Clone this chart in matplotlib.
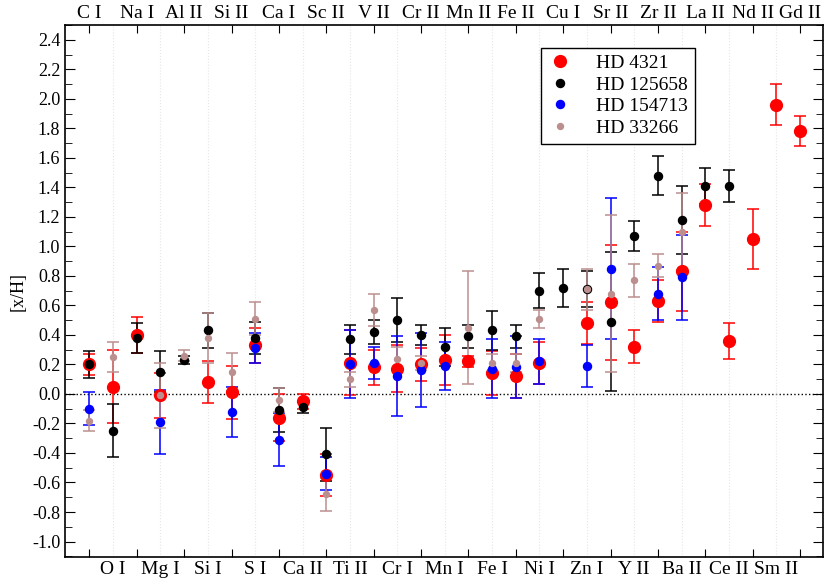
import numpy as np
import matplotlib
matplotlib.use('Agg')
import matplotlib.pyplot as plt
from matplotlib.ticker import MultipleLocator
from matplotlib.lines import Line2D

plt.rcParams['font.family'] = ['Liberation Serif', 'DejaVu Serif']

nan = np.nan
# элементы
elements = ['C I', 'O I', 'Na I', 'Mg I', 'Al II', 'Si I', 'Si II', 'S I', 'Ca I', 'Ca II',
            'Sc II', 'Ti II', 'V II', 'Cr I', 'Cr II', 'Mn I', 'Mn II', 'Fe I', 'Fe II', 'Ni I',
            'Cu I', 'Zn I', 'Sr II', 'Y II', 'Zr II', 'Ba II', 'La II', 'Ce II', 'Nd II', 'Sm II',
            'Gd II']

# HD 4321
hd4321 = [0.20, 0.05, 0.40, -0.01, nan, 0.08, 0.01, 0.33, -0.16, -0.05,
          -0.55, 0.21, 0.18, 0.17, 0.20, 0.23, 0.22, 0.14, 0.12, 0.21,
          nan, 0.48, 0.62, 0.32, 0.63, 0.83, 1.28, 0.36, 1.05, 1.96, 1.78]
hd4321_err = [0.07, 0.25, 0.12, 0.15, nan, 0.14, 0.18, 0.12, 0.16, 0.05,
              0.14, 0.22, 0.12, 0.16, 0.11, 0.17, 0.04, 0.15, 0.15, 0.14,
              nan, 0.14, 0.39, 0.11, 0.14, 0.27, 0.14, 0.12, 0.20, 0.14, 0.10]
# HD 125658
hd125658 = [0.20, -0.25, 0.38, 0.15, 0.23, 0.43, nan, 0.38, -0.11, -0.09,
            -0.41, 0.37, 0.42, 0.50, 0.40, 0.32, 0.39, 0.43, 0.39, 0.70,
            0.72, 0.71, 0.49, 1.07, 1.48, 1.18, 1.41, 1.41, nan, nan, nan]
hd125658_err = [0.09, 0.18, 0.10, 0.14, 0.03, 0.12, nan, 0.11, 0.15, 0.04,
                0.18, 0.10, 0.08, 0.15, 0.07, 0.13, 0.08, 0.13, 0.08, 0.12,
                0.13, 0.12, 0.47, 0.10, 0.13, 0.23, 0.12, 0.11, nan, nan, nan]
# HD 154713
hd154713 = [-0.10, nan, nan, -0.19, nan, nan, -0.12, 0.31, -0.31, nan,
            -0.54, 0.20, 0.21, 0.12, 0.16, 0.19, nan, 0.17, 0.18, 0.22,
            nan, 0.19, 0.85, nan, 0.68, 0.79, nan, nan, nan, nan, nan]
hd154713_err = [0.11, nan, nan, 0.22, nan, nan, 0.17, 0.10, 0.18, nan,
                0.11, 0.23, 0.11, 0.27, 0.25, 0.16, nan, 0.20, 0.21, 0.15,
                nan, 0.14, 0.48, nan, 0.18, 0.29, nan, nan, nan, nan, nan]
# HD 33266
hd33266 = [-0.18, 0.25, nan, -0.01, 0.26, 0.38, 0.15, 0.51, -0.04, nan,
           -0.68, 0.10, 0.57, 0.24, 0.21, nan, 0.45, 0.21, 0.21, 0.51,
           nan, 0.71, 0.68, 0.77, 0.87, 1.10, nan, nan, nan, nan, nan]
hd33266_err = [0.07, 0.10, nan, 0.22, 0.04, 0.17, 0.13, 0.11, 0.08, nan,
               0.11, 0.05, 0.11, 0.08, 0.05, nan, 0.38, 0.06, 0.06, 0.06,
               nan, 0.14, 0.53, 0.11, 0.08, 0.26, nan, nan, nan, nan, nan]

x = np.arange(len(elements))

fig = plt.figure(figsize=(8.3, 5.84), dpi=100)
ax = fig.add_axes([0.0783, 0.0462, 0.9133, 0.911])

ax.axhline(0, color='black', linestyle=':', linewidth=1.0, zorder=1)

stars = [
    (hd4321, hd4321_err, 'red', 8.5, 'HD 4321'),
    (hd125658, hd125658_err, 'black', 5.8, 'HD 125658'),
    (hd154713, hd154713_err, 'blue', 5.8, 'HD 154713'),
    (hd33266, hd33266_err, 'rosybrown', 4.3, 'HD 33266'),
]
handles = []
for vals, errs, col, ms, lab in stars:
    ax.errorbar(x, vals, yerr=errs, fmt='o', color=col, ecolor=col, markersize=ms,
                elinewidth=1.1, capsize=4, capthick=1.1, zorder=3)
    handles.append(Line2D([], [], marker='o', linestyle='', color=col, markersize=ms, label=lab))

ax.set_xlim(-1.03, 30.97)
ax.set_ylim(-1.105, 2.5)

# подписи: чётные сверху, нечётные снизу
ax.set_xticks(x[::2])
ax.set_xticklabels(elements[::2])
ax.set_xticks(x[1::2], minor=True)
ax.set_xticklabels(elements[1::2], minor=True)
ax.tick_params(axis='x', which='major', direction='in', length=6, top=True, bottom=True,
               labeltop=True, labelbottom=False, labelsize=14, pad=2)
ax.tick_params(axis='x', which='minor', length=0, top=False, bottom=True,
               labelbottom=True, labelsize=14, pad=3)
ax.grid(True, which='minor', axis='x', color='#e6e6e6', linestyle=':', linewidth=0.8)

ax.yaxis.set_major_locator(MultipleLocator(0.2))
ax.yaxis.set_minor_locator(MultipleLocator(0.1))
ax.yaxis.set_major_formatter(plt.FuncFormatter(lambda v, p: '%.1f' % v))
ax.tick_params(axis='y', which='both', direction='in', left=True, right=True, labelsize=13)
ax.tick_params(axis='y', which='major', length=7)
ax.tick_params(axis='y', which='minor', length=5)
ax.set_ylabel('[x/H]', fontsize=13, labelpad=4)

for s in ax.spines.values():
    s.set_linewidth(1.2)

leg = ax.legend(handles=handles, loc='upper left', bbox_to_anchor=(0.628, 0.957),
                borderaxespad=0, fontsize=14, frameon=True, fancybox=False,
                edgecolor='black', framealpha=1, borderpad=0.35, handlelength=1.2,
                handletextpad=1.3, labelspacing=0.2)
leg.get_frame().set_linewidth(1.0)

plt.savefig('out.png', dpi=100)
